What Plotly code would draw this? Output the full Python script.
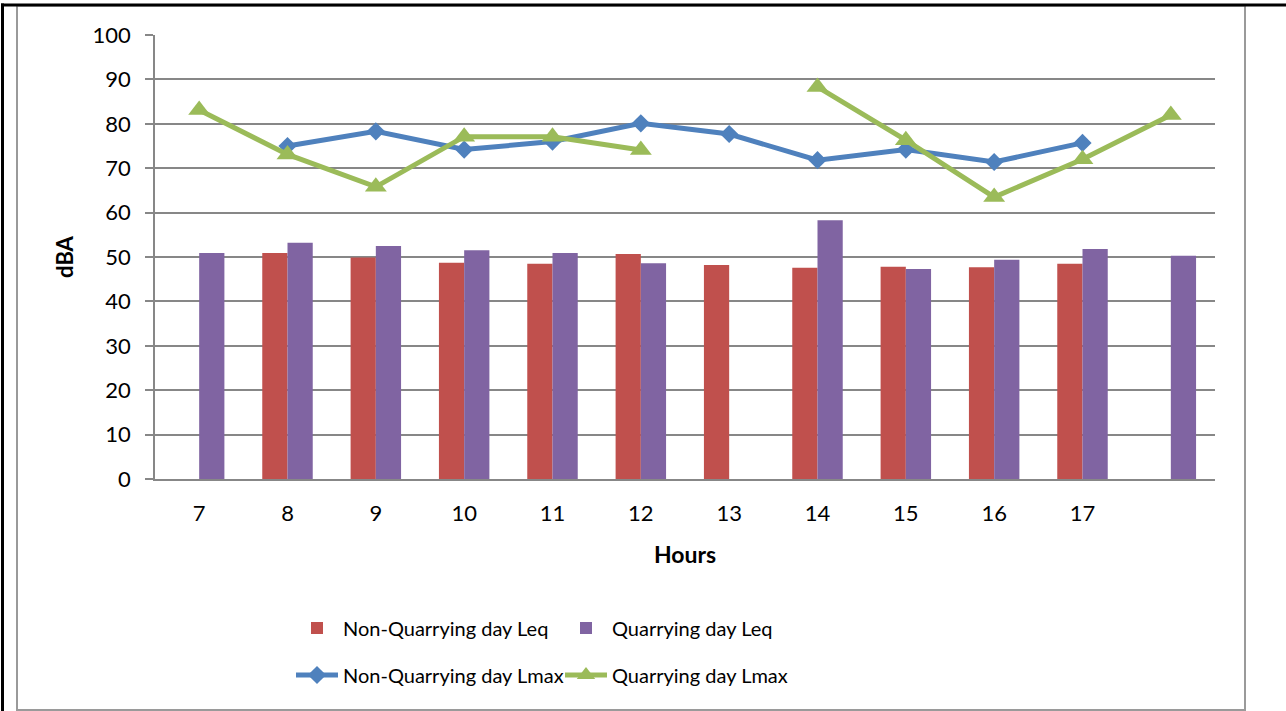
import plotly.graph_objects as go

# Hourly noise levels (dBA)
hour_labels = ["7", "8", "9", "10", "11", "12", "13", "14", "15", "16", "17", ""]

non_quarry_leq = [None, 50.9, 49.9, 48.7, 48.5, 50.7, 48.2, 47.6, 47.8, 47.7, 48.5, None]
quarry_leq = [50.9, 53.2, 52.5, 51.5, 50.9, 48.6, None, 58.3, 47.3, 49.4, 51.8, 50.3]
non_quarry_lmax = [None, 75.0, 78.3, 74.2, 76.0, 80.1, 77.7, 71.8, 74.2, 71.4, 75.7, None]
quarry_lmax = [83.1, 73.1, 65.8, 77.1, 77.1, 74.1, None, 88.3, 76.3, 63.5, 72.0, 82.0]

y_ticks = [0, 10, 20, 30, 40, 50, 60, 70, 80, 90, 100]

RED = "#C0504D"
PURPLE = "#8064A2"
BLUE = "#4F81BD"
GREEN = "#9BBB59"
GRID = "#878787"
FONT = "Lato"

pos = list(range(len(hour_labels)))

W, H = 1286, 711
ML, MR, MT, MB = 155, 71, 35, 232
PW = W - ML - MR
PH = H - MT - MB


def px(x):
    return (x - ML) / PW


def py(y):
    return (H - MB - y) / PH


fig = go.Figure()

fig.add_trace(go.Bar(
    x=pos, y=non_quarry_leq, name="Non-Quarrying day Leq",
    marker=dict(color=RED, line=dict(width=0)), legend="legend",
))
fig.add_trace(go.Bar(
    x=pos, y=quarry_leq, name="Quarrying day Leq",
    marker=dict(color=PURPLE, line=dict(width=0)), legend="legend",
))
fig.add_trace(go.Scatter(
    x=pos, y=non_quarry_lmax, name="Non-Quarrying day Lmax",
    mode="lines+markers", connectgaps=False,
    line=dict(color=BLUE, width=5),
    marker=dict(symbol="diamond", size=14, color=BLUE),
    legend="legend2",
))
fig.add_trace(go.Scatter(
    x=pos, y=quarry_lmax, name="Quarrying day Lmax",
    mode="lines+markers", connectgaps=False,
    line=dict(color=GREEN, width=5),
    marker=dict(symbol="triangle-up", size=19, color=GREEN),
    legend="legend2",
))

# Frame lines around the chart
shapes = [
    dict(type="rect", xref="paper", yref="paper",
         x0=px(17), x1=px(1245), y0=py(710), y1=py(5.5),
         line=dict(color="#9a9a9a", width=2), layer="below"),
    dict(type="line", xref="paper", yref="paper",
         x0=px(2.5), x1=px(2.5), y0=py(711), y1=py(3.5),
         line=dict(color="black", width=3)),
    dict(type="line", xref="paper", yref="paper",
         x0=px(1), x1=px(1290), y0=py(5), y1=py(5),
         line=dict(color="black", width=3)),
]

legend_common = dict(
    orientation="h", xanchor="left", yanchor="middle",
    font=dict(family=FONT, size=20, color="black"),
    itemwidth=42, entrywidthmode="pixels", entrywidth=212,
    bgcolor="rgba(0,0,0,0)", traceorder="normal",
    itemclick=False, itemdoubleclick=False,
)

fig.update_layout(
    width=W, height=H,
    margin=dict(l=ML, r=MR, t=MT, b=MB, autoexpand=False),
    paper_bgcolor="white", plot_bgcolor="white",
    font=dict(family=FONT, size=20, color="black"),
    barmode="group", bargap=0.4286, bargroupgap=0,
    shapes=shapes,
    legend=dict(x=px(291), y=py(628), **legend_common),
    legend2=dict(x=px(291), y=py(675), **legend_common),
    xaxis=dict(
        range=[-0.5, len(hour_labels) - 0.5],
        tickmode="array", tickvals=pos, ticktext=hour_labels,
        showgrid=False, zeroline=False,
        showline=True, linecolor=GRID, linewidth=1.5,
        ticks="", ticklabelstandoff=14,
        tickfont=dict(family=FONT, size=22, color="black"),
        title=dict(text="<b>Hours</b>", standoff=22,
                   font=dict(family=FONT, size=23, color="black")),
    ),
    yaxis=dict(
        range=[0, 100], tickmode="array", tickvals=y_ticks,
        showgrid=True, gridcolor=GRID, gridwidth=1.5,
        zeroline=False,
        showline=True, linecolor=GRID, linewidth=1.5,
        ticks="outside", ticklen=8, tickcolor=GRID, tickwidth=1.5,
        ticklabelstandoff=10,
        tickfont=dict(family=FONT, size=22, color="black"),
        title=dict(text="<b>dBA</b>", standoff=13,
                   font=dict(family=FONT, size=22, color="black")),
    ),
)

fig.write_html("out.html")
